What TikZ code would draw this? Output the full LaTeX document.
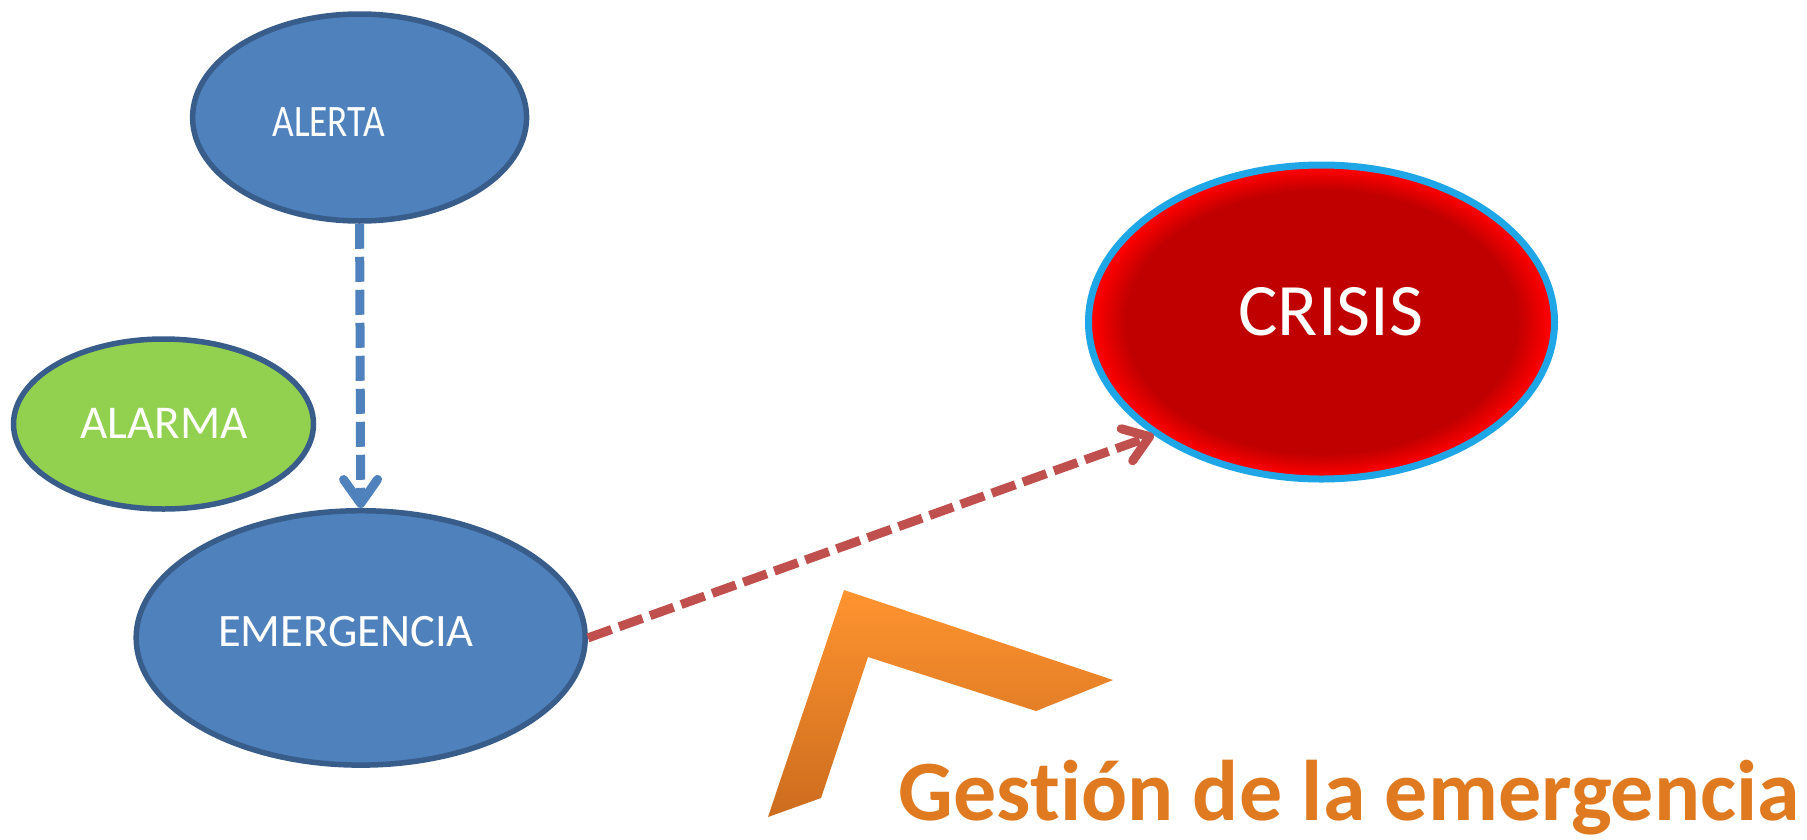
\documentclass[tikz,border=0pt]{standalone}
\usepackage{fontspec}
\setmainfont{Carlito}[Ligatures=NoCommon]
\newfontfamily\condfont{Carlito}[FakeStretch=0.83]
\usetikzlibrary{shapes.geometric,arrows.meta}
\definecolor{bluefill}{HTML}{4F81BD}
\definecolor{bluestroke}{HTML}{385D8A}
\definecolor{greenfill}{HTML}{92D050}
\definecolor{crisisdark}{HTML}{C00000}
\definecolor{crisisred}{HTML}{FF0000}
\definecolor{crisisedge}{HTML}{1FA6E6}
\definecolor{arrowred}{HTML}{C0504D}
\definecolor{orangetop}{HTML}{FF9430}
\definecolor{orangebot}{HTML}{CC6C1E}
\definecolor{orangetext}{HTML}{E07A20}
\pgfdeclareradialshading{crisisglow}{\pgfpointorigin}{color(0bp)=(crisisdark); color(21bp)=(crisisdark); color(24.5bp)=(crisisred); color(50bp)=(crisisred)}
\tikzset{
  oval/.style={ellipse, inner sep=0pt, line width=5.5pt},
  ovaltext/.style={text=white, anchor=base, font=\fontsize{45pt}{52pt}\selectfont},
  flowline/.style={line width=9pt, dash pattern=on 25pt off 8pt, -{Straight Barb[length=24pt,width=34pt,round]}}
}
\begin{document}
\begin{tikzpicture}[x=1pt,y=-1pt]
\useasboundingbox (0,0) rectangle (1807,839);
% ellipses
\node[oval, fill=bluefill, draw=bluestroke, minimum width=334pt, minimum height=207pt] (alerta) at (359.6,117.5) {};
\node[oval, fill=greenfill, draw=bluestroke, minimum width=300pt, minimum height=170pt] (alarma) at (163.5,424) {};
\node[oval, fill=bluefill, draw=bluestroke, minimum width=449pt, minimum height=254.4pt] (emer) at (360.7,637.9) {};
\node[ellipse, inner sep=0pt, shading=crisisglow, draw=crisisedge, line width=7pt, minimum width=466pt, minimum height=314pt] (crisis) at (1321.5,322) {};
% texts
\node[ovaltext, font=\condfont\fontsize{45pt}{52pt}\selectfont] (talerta) at (328.6,136.7) {ALERTA};
\node[ovaltext, font=\fontsize{47pt}{54pt}\selectfont] (talarma) at (164,438) {ALARMA};
\node[ovaltext, font=\fontsize{46.5pt}{54pt}\selectfont] (temer) at (346,646.7) {EMERGENCIA};
\node[ovaltext, font=\fontsize{74pt}{84pt}\selectfont] (tcrisis) at (1331,335) {CRISIS};
% connectors
\draw[flowline, draw=bluefill] (alerta.south) -- (emer.north);
\draw[flowline, draw=arrowred] (emer.east) -- (crisis.214);
% chevron
\shade[top color=orangetop, bottom color=orangebot] (844,590) -- (1113,680) -- (1036,711) -- (868,657) -- (821,798) -- (768,817) -- cycle;
\node[anchor=base, text=orangetext, font=\fontsize{86pt}{100pt}\selectfont\bfseries] (gestion) at (1349.3,820.5) {Gestión de la emergencia};
\end{tikzpicture}
\end{document}
